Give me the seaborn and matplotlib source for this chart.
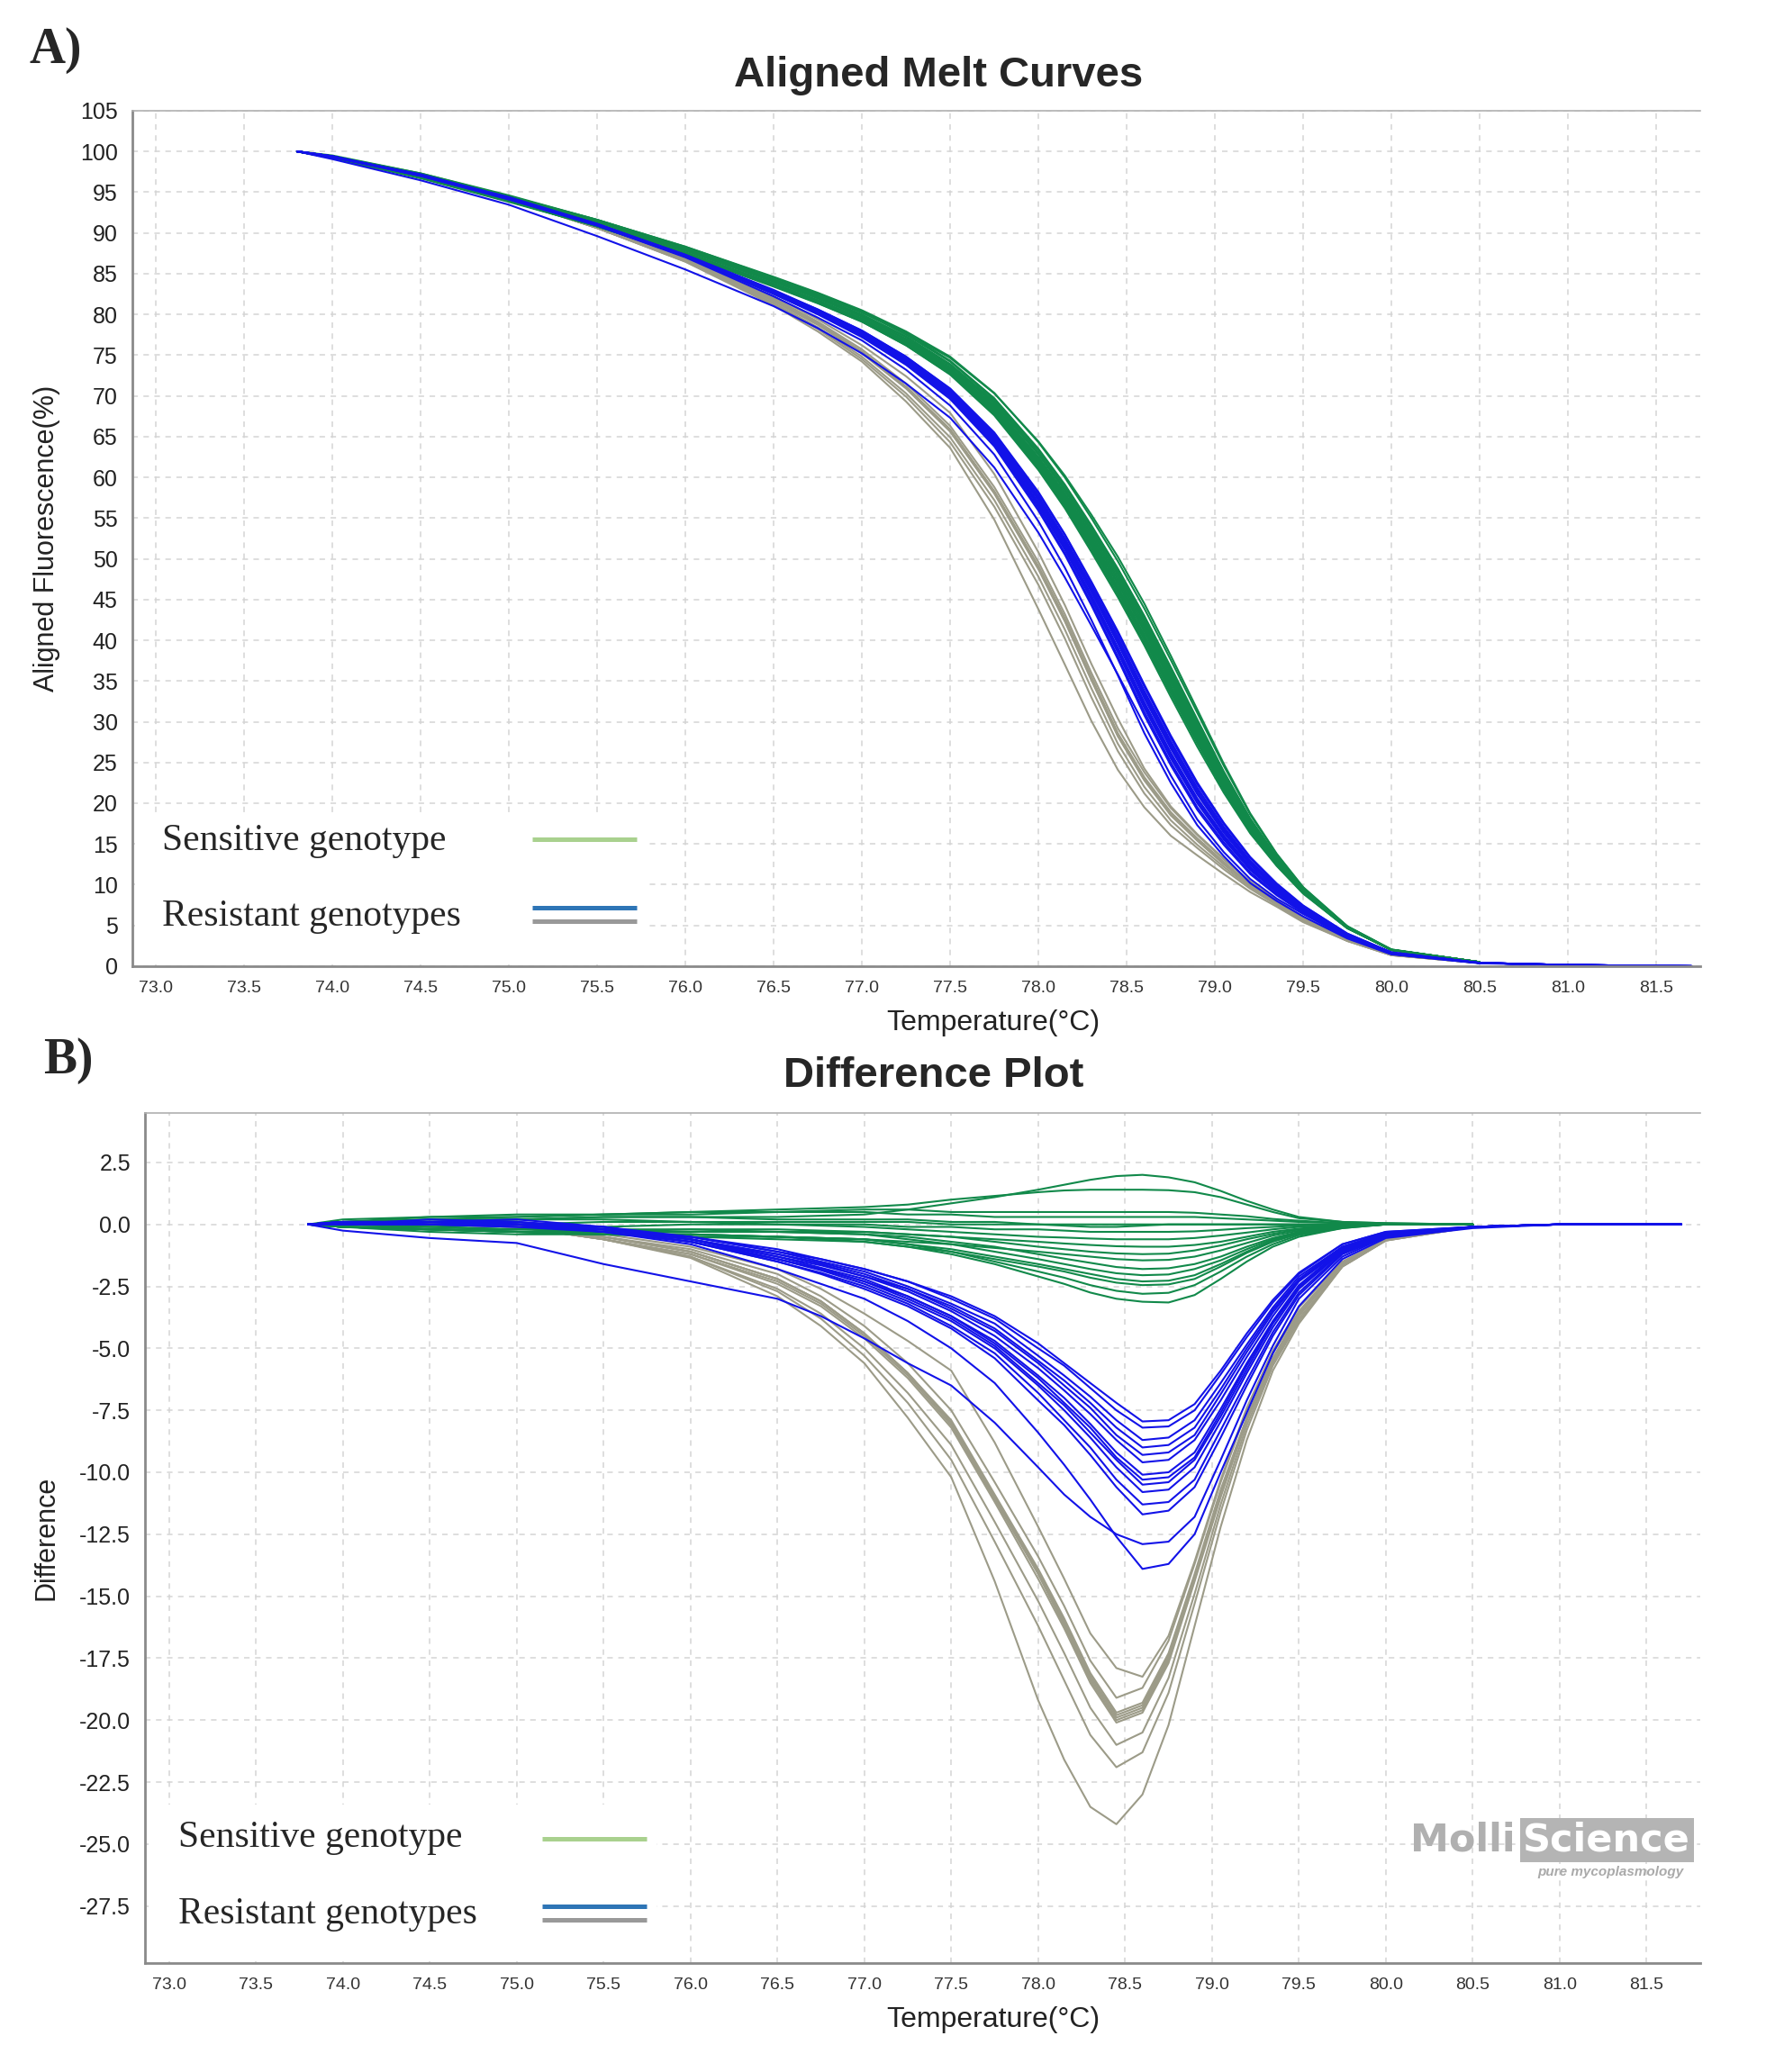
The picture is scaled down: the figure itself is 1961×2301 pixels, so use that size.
import numpy as np
import pandas as pd
import matplotlib.pyplot as plt
import matplotlib.patches as mpatches
import seaborn as sns

#------------------------------------------------------------------------------
# data

temps = [73.8, 74.0, 74.5, 75.0, 75.5, 76.0, 76.5, 76.75, 77.0, 77.25, 77.5, 77.75, 78.0, 78.15,
         78.3, 78.45, 78.6, 78.75, 78.9, 79.05, 79.2, 79.35, 79.5, 79.75, 80.0, 80.5, 81.0, 81.7]

# reference aligned melt curve (difference = 0)
ref_fluor = [100.0, 99.3, 97.0, 94.2, 91.2, 87.8, 84.0, 82.0, 79.8, 77.1, 73.8, 69.2, 63.0, 58.6,
             53.6, 48.3, 42.5, 36.2, 29.8, 23.5, 17.8, 13.2, 9.4, 4.8, 2.0, 0.5, 0.15, 0.0]

na = np.nan
sensitive = [
    [0, 0.1, 0.2, 0.2, 0.3, 0.3, 0.3, 0.35, 0.4, 0.6, 0.85, 1.1, 1.4, 1.6, 1.8, 1.95, 2.0, 1.9, 1.7, 1.35, 0.95, 0.6, 0.3, 0.1, 0.05, 0, na, na],
    [0, 0.1, 0.2, 0.3, 0.4, 0.5, 0.6, 0.65, 0.7, 0.8, 1.0, 1.15, 1.3, 1.37, 1.4, 1.4, 1.4, 1.38, 1.3, 1.1, 0.8, 0.5, 0.25, 0.1, 0.05, 0, na, na],
    [0, 0.1, 0.3, 0.3, 0.4, 0.5, 0.5, 0.55, 0.6, 0.6, 0.5, 0.5, 0.5, 0.5, 0.5, 0.5, 0.5, 0.5, 0.47, 0.4, 0.33, 0.22, 0.15, 0.05, 0, 0, na, na],
    [0, 0.2, 0.3, 0.4, 0.4, 0.4, 0.5, 0.5, 0.5, 0.4, 0.4, 0.3, 0.3, 0.3, 0.3, 0.3, 0.3, 0.3, 0.3, 0.25, 0.2, 0.15, 0.1, 0.05, 0, 0, na, na],
    [0, 0.1, 0.1, 0.2, 0.2, 0.1, 0.1, 0.1, 0.1, 0.1, 0.0, 0.0, 0.0, 0, 0, 0, 0, 0, 0, 0, 0, 0, 0, 0, 0, 0, na, na],
    [0, 0.0, 0.1, 0.2, 0.3, 0.3, 0.2, 0.2, 0.2, 0.2, 0.1, 0.1, 0.0, -0.05, -0.1, -0.1, -0.05, 0, 0, 0, 0, 0, 0, 0, 0, 0, na, na],
    [0, 0.0, -0.1, 0.0, 0.1, 0.1, 0.0, 0.0, 0.0, -0.1, -0.1, -0.2, -0.2, -0.25, -0.3, -0.3, -0.3, -0.3, -0.28, -0.22, -0.15, -0.1, -0.05, 0, 0, 0, na, na],
    [0, -0.1, -0.2, -0.2, -0.1, 0.0, 0.0, -0.05, -0.1, -0.2, -0.3, -0.4, -0.5, -0.53, -0.57, -0.6, -0.6, -0.6, -0.55, -0.45, -0.33, -0.2, -0.1, -0.05, 0, 0, na, na],
    [0, -0.1, -0.2, -0.3, -0.3, -0.3, -0.3, -0.3, -0.3, -0.4, -0.5, -0.6, -0.7, -0.77, -0.83, -0.88, -0.9, -0.9, -0.83, -0.7, -0.5, -0.3, -0.17, -0.05, 0, 0, na, na],
    [0, -0.1, -0.1, -0.2, -0.2, -0.2, -0.2, -0.25, -0.3, -0.4, -0.5, -0.7, -0.9, -1.0, -1.1, -1.17, -1.2, -1.18, -1.05, -0.85, -0.6, -0.38, -0.2, -0.05, 0, 0, na, na],
    [0, -0.1, -0.2, -0.3, -0.4, -0.4, -0.5, -0.55, -0.6, -0.7, -0.8, -0.95, -1.1, -1.2, -1.3, -1.4, -1.45, -1.43, -1.3, -1.05, -0.75, -0.45, -0.25, -0.05, 0, 0, na, na],
    [0, -0.1, -0.1, -0.2, -0.3, -0.3, -0.3, -0.35, -0.4, -0.5, -0.7, -0.9, -1.2, -1.38, -1.55, -1.72, -1.8, -1.77, -1.6, -1.3, -0.9, -0.55, -0.3, -0.1, 0, 0, na, na],
    [0, -0.1, -0.2, -0.3, -0.3, -0.2, -0.3, -0.35, -0.4, -0.6, -0.8, -1.1, -1.4, -1.6, -1.8, -1.97, -2.05, -2.02, -1.8, -1.45, -1.0, -0.6, -0.33, -0.1, 0, 0, na, na],
    [0, -0.1, -0.2, -0.3, -0.4, -0.4, -0.5, -0.55, -0.6, -0.8, -1.0, -1.3, -1.6, -1.8, -2.0, -2.2, -2.3, -2.27, -2.05, -1.6, -1.1, -0.65, -0.35, -0.1, 0, 0, na, na],
    [0, -0.1, -0.3, -0.4, -0.4, -0.5, -0.6, -0.65, -0.7, -0.9, -1.1, -1.4, -1.7, -1.9, -2.15, -2.35, -2.45, -2.42, -2.2, -1.7, -1.15, -0.7, -0.38, -0.1, 0, 0, na, na],
    [0, -0.1, -0.2, -0.3, -0.4, -0.4, -0.5, -0.55, -0.6, -0.8, -1.1, -1.5, -1.9, -2.15, -2.45, -2.68, -2.8, -2.76, -2.45, -1.9, -1.3, -0.8, -0.43, -0.15, 0, 0, na, na],
    [0, -0.1, -0.2, -0.3, -0.4, -0.5, -0.5, -0.6, -0.7, -0.9, -1.2, -1.6, -2.1, -2.4, -2.75, -3.0, -3.12, -3.15, -2.85, -2.2, -1.5, -0.9, -0.5, -0.15, 0, 0, na, na],
]

resistant_blue = [
    [0, 0.1, 0.1, 0.0, -0.1, -0.5, -1.0, -1.4, -1.8, -2.3, -2.9, -3.7, -4.8, -5.6, -6.4, -7.2, -7.95, -7.9, -7.25, -5.9, -4.4, -3.05, -1.95, -0.8, -0.3, -0.1, 0, 0],
    [0, 0.0, 0.1, 0.1, -0.2, -0.5, -1.1, -1.4, -1.8, -2.3, -3.0, -3.8, -5.0, -5.7, -6.6, -7.5, -8.2, -8.15, -7.5, -6.05, -4.55, -3.15, -2.0, -0.8, -0.3, -0.1, 0, 0],
    [0, 0.1, 0.0, 0.0, -0.2, -0.5, -1.1, -1.5, -1.9, -2.5, -3.2, -4.0, -5.3, -6.1, -6.95, -7.9, -8.7, -8.6, -7.9, -6.4, -4.85, -3.35, -2.1, -0.9, -0.35, -0.1, 0, 0],
    [0, 0.0, 0.2, 0.1, -0.1, -0.6, -1.2, -1.55, -2.0, -2.6, -3.3, -4.2, -5.5, -6.3, -7.2, -8.2, -9.0, -8.9, -8.2, -6.65, -5.0, -3.45, -2.2, -0.9, -0.35, -0.1, 0, 0],
    [0, 0.1, 0.1, 0.0, -0.2, -0.6, -1.2, -1.6, -2.1, -2.6, -3.4, -4.3, -5.6, -6.5, -7.4, -8.5, -9.3, -9.2, -8.5, -6.85, -5.15, -3.55, -2.25, -0.95, -0.4, -0.1, 0, 0],
    [0, 0.0, 0.0, -0.1, -0.2, -0.6, -1.3, -1.65, -2.1, -2.7, -3.5, -4.5, -5.8, -6.7, -7.65, -8.7, -9.6, -9.5, -8.7, -7.1, -5.35, -3.7, -2.3, -1.0, -0.4, -0.1, 0, 0],
    [0, 0.1, 0.1, 0.0, -0.2, -0.6, -1.3, -1.75, -2.2, -2.9, -3.7, -4.7, -6.1, -7.0, -8.05, -9.2, -10.1, -10.0, -9.2, -7.45, -5.6, -3.9, -2.45, -1.0, -0.4, -0.1, 0, 0],
    [0, 0.0, 0.1, 0.2, -0.1, -0.6, -1.4, -1.8, -2.3, -2.9, -3.7, -4.8, -6.2, -7.2, -8.2, -9.4, -10.3, -10.2, -9.4, -7.6, -5.7, -3.95, -2.5, -1.05, -0.4, -0.1, 0, 0],
    [0, 0.1, 0.0, 0.0, -0.2, -0.7, -1.4, -1.8, -2.3, -3.0, -3.8, -4.9, -6.4, -7.3, -8.4, -9.5, -10.5, -10.4, -9.5, -7.75, -5.85, -4.0, -2.55, -1.05, -0.4, -0.1, 0, 0],
    [0, 0.0, 0.1, 0.1, -0.2, -0.7, -1.4, -1.85, -2.4, -3.1, -3.9, -5.0, -6.5, -7.5, -8.6, -9.8, -10.8, -10.7, -9.8, -7.95, -6.0, -4.15, -2.6, -1.1, -0.45, -0.1, 0, 0],
    [0, 0.1, 0.1, 0.0, -0.3, -0.7, -1.5, -1.95, -2.5, -3.2, -4.1, -5.2, -6.8, -7.9, -9.0, -10.3, -11.3, -11.2, -10.3, -8.3, -6.3, -4.35, -2.75, -1.15, -0.45, -0.1, 0, 0],
    [0, 0.0, 0.0, -0.1, -0.3, -0.7, -1.5, -2.0, -2.6, -3.3, -4.2, -5.4, -7.1, -8.1, -9.3, -10.6, -11.7, -11.55, -10.6, -8.6, -6.5, -4.5, -2.85, -1.2, -0.5, -0.1, 0, 0],
    [0, 0.0, 0.1, 0.0, -0.3, -0.8, -1.8, -2.4, -3.0, -3.9, -5.0, -6.4, -8.4, -9.7, -11.1, -12.6, -13.9, -13.7, -12.5, -10.0, -7.6, -5.2, -3.3, -1.4, -0.55, -0.15, 0, 0],
    [0, -0.25, -0.55, -0.75, -1.6, -2.3, -3.0, -3.7, -4.6, -5.6, -6.5, -8.0, -9.8, -10.9, -11.8, -12.5, -12.9, -12.8, -11.8, -9.5, -7.1, -4.9, -3.0, -1.3, -0.5, -0.1, 0, 0],
]

resistant_gray = [
    [0, 0, 0.1, 0, -0.4, -0.9, -1.8, -2.6, -3.6, -4.7, -5.9, -8.8, -12.2, -14.3, -16.5, -17.9, -18.25, -16.6, -13.6, -10.3, -7.4, -5.1, -3.35, -1.5, -0.6, -0.1, na, na],
    [0, 0, 0, -0.1, -0.5, -1.0, -2.0, -2.9, -4.1, -5.6, -7.5, -10.4, -13.4, -15.4, -17.6, -19.1, -18.7, -16.8, -13.7, -10.4, -7.5, -5.2, -3.5, -1.55, -0.6, -0.1, na, na],
    [0, 0, 0, -0.1, -0.5, -1.1, -2.2, -3.1, -4.4, -6.0, -7.9, -10.9, -13.9, -15.9, -18.1, -19.7, -19.3, -17.3, -14.1, -10.7, -7.8, -5.4, -3.6, -1.6, -0.6, -0.1, na, na],
    [0, 0, 0.1, 0, -0.5, -1.1, -2.2, -3.1, -4.4, -6.0, -8.0, -11.0, -14.0, -16.0, -18.2, -19.8, -19.4, -17.4, -14.2, -10.8, -7.8, -5.4, -3.6, -1.6, -0.6, -0.1, na, na],
    [0, 0, 0, -0.1, -0.6, -1.2, -2.3, -3.2, -4.5, -6.1, -8.1, -11.1, -14.1, -16.1, -18.3, -19.9, -19.5, -17.5, -14.3, -10.9, -7.85, -5.45, -3.65, -1.6, -0.6, -0.1, na, na],
    [0, 0, 0, 0, -0.5, -1.1, -2.2, -3.1, -4.4, -6.0, -8.0, -11.0, -14.1, -16.2, -18.4, -20.0, -19.6, -17.6, -14.3, -10.9, -7.9, -5.45, -3.65, -1.6, -0.6, -0.1, na, na],
    [0, 0, 0.1, 0, -0.6, -1.2, -2.4, -3.3, -4.6, -6.2, -8.2, -11.2, -14.3, -16.3, -18.5, -20.1, -19.7, -17.7, -14.4, -11.0, -7.9, -5.5, -3.7, -1.6, -0.6, -0.1, na, na],
    [0, 0, 0, -0.1, -0.6, -1.3, -2.6, -3.6, -5.0, -6.8, -8.9, -12.0, -15.2, -17.3, -19.5, -21.0, -20.5, -18.3, -14.9, -11.3, -8.1, -5.6, -3.8, -1.7, -0.65, -0.1, na, na],
    [0, 0, 0, -0.1, -0.6, -1.3, -2.7, -3.8, -5.3, -7.2, -9.5, -12.8, -16.2, -18.4, -20.6, -21.9, -21.3, -18.9, -15.3, -11.6, -8.3, -5.7, -3.9, -1.7, -0.65, -0.1, na, na],
    [0, 0, 0, -0.1, -0.6, -1.35, -2.9, -4.1, -5.6, -7.8, -10.2, -14.4, -19.2, -21.6, -23.5, -24.2, -23.0, -20.2, -16.2, -12.2, -8.7, -5.9, -4.0, -1.7, -0.65, -0.1, na, na],
]

x_ticks = np.arange(73.0, 81.51, 0.5)
melt_yticks = np.arange(0, 106, 5)
diff_yticks = np.arange(-27.5, 2.6, 2.5)

#------------------------------------------------------------------------------

groups = [("gray", resistant_gray), ("green", sensitive), ("blue", resistant_blue)]
rows = []
for name, curves in groups:
    for i, c in enumerate(curves):
        for t, r, d in zip(temps, ref_fluor, c):
            if np.isnan(d):
                continue
            rows.append((name, name + str(i), t, d, max(r + d, 0.0)))
df = pd.DataFrame(rows, columns=["group", "curve", "temp", "diff", "fluor"])

pal = {"green": "#11894a", "blue": "#1212e8", "gray": "#9c9b88"}

sns.set_style("white")
plt.rcParams['font.family'] = ['Liberation Sans', 'DejaVu Sans']
plt.rcParams['axes.unicode_minus'] = False

fig = plt.figure(figsize=(19.61, 23.01), dpi=100)
axA = fig.add_axes([0.0748, 0.5337, 0.888, 0.4129])
axB = fig.add_axes([0.0822, 0.0526, 0.8807, 0.4103])


def style_axis(ax, yticks, fmt):
    ax.set_axisbelow(True)
    ax.grid(True, color="#d4d4d4", linestyle=(0, (4, 4)), linewidth=1.1)
    ax.set_xticks(x_ticks)
    ax.set_xticklabels(["%.1f" % v for v in x_ticks], fontsize=14, color="#333333")
    ax.set_yticks(yticks)
    ax.set_yticklabels([fmt % v for v in yticks], fontsize=18, color="#222222")
    ax.tick_params(axis="both", direction="out", length=4.5, width=1.2, color="#888888", pad=7)
    for s in ["left", "bottom"]:
        ax.spines[s].set_color("#8a8a8a")
        ax.spines[s].set_linewidth(2)
    ax.spines["top"].set_color("#b0b0b0")
    ax.spines["top"].set_linewidth(1.2)
    ax.spines["right"].set_visible(False)


def fake_legend(ax, rect_w, rect_h, txt_x, y1, y2, lx0, lx1, lg, lb, lgr):
    ax.add_patch(mpatches.Rectangle((0.002, 0.002), rect_w, rect_h, transform=ax.transAxes,
                                    facecolor="white", edgecolor="none", zorder=0.8))
    ax.text(txt_x, y1, "Sensitive genotype", transform=ax.transAxes, fontsize=30,
            family="Liberation Serif", va="center", zorder=5)
    ax.text(txt_x, y2, "Resistant genotypes", transform=ax.transAxes, fontsize=30,
            family="Liberation Serif", va="center", zorder=5)
    ax.plot([lx0, lx1], [lg, lg], transform=ax.transAxes, color="#a9d18e", lw=3.6,
            solid_capstyle="butt", zorder=5)
    ax.plot([lx0, lx1], [lb, lb], transform=ax.transAxes, color="#2e75b6", lw=3.6,
            solid_capstyle="butt", zorder=5)
    ax.plot([lx0, lx1], [lgr, lgr], transform=ax.transAxes, color="#999999", lw=3.6,
            solid_capstyle="butt", zorder=5)


# A) aligned melt curves
sns.lineplot(data=df, x="temp", y="fluor", hue="group", units="curve", estimator=None,
             hue_order=["gray", "green", "blue"], palette=pal, lw=1.5, sort=False,
             legend=False, ax=axA, zorder=2)
axA.set_xlim(72.865, 81.75)
axA.set_ylim(0, 105)
style_axis(axA, melt_yticks, "%d")
axA.set_xlabel("Temperature(°C)", fontsize=23, color="#222222")
axA.set_ylabel("Aligned Fluorescence(%)", fontsize=22, color="#222222")
axA.xaxis.set_label_coords(0.549, -0.051)
axA.yaxis.set_label_coords(-0.046, 0.5)
fake_legend(axA, 0.328, 0.176, 0.0194, 0.1466, 0.0586, 0.255, 0.3215, 0.148, 0.0679, 0.0525)

# B) difference plot
sns.lineplot(data=df, x="temp", y="diff", hue="group", units="curve", estimator=None,
             hue_order=["gray", "green", "blue"], palette=pal, lw=1.5, sort=False,
             legend=False, ax=axB, zorder=2)
axB.set_xlim(72.863, 81.81)
axB.set_ylim(-29.8, 4.5)
style_axis(axB, diff_yticks, "%.1f")
axB.set_xlabel("Temperature(°C)", fontsize=23, color="#222222")
axB.set_ylabel("Difference", fontsize=22, color="#222222")
axB.xaxis.set_label_coords(0.545, -0.0513)
axB.yaxis.set_label_coords(-0.055, 0.5)
fake_legend(axB, 0.327, 0.184, 0.0212, 0.1475, 0.0575, 0.2555, 0.3226, 0.146, 0.0668, 0.0512)

# MolliScience logo
axB.text(0.881, 0.1444, "Molli", transform=axB.transAxes, fontsize=31, fontweight="bold",
         family="DejaVu Sans", color="#b0b0b0", ha="right", va="center", zorder=5)
axB.text(0.886, 0.1444, "Science", transform=axB.transAxes, fontsize=31, fontweight="bold",
         family="DejaVu Sans", color="white", ha="left", va="center", zorder=5,
         bbox=dict(boxstyle="square,pad=0.08", facecolor="#b4b4b4", edgecolor="none"))
axB.text(0.989, 0.107, "pure mycoplasmology", transform=axB.transAxes, fontsize=11,
         style="italic", fontweight="bold", color="#aaaaaa", ha="right", va="center", zorder=5)

# titles and panel letters
fig.text(0.5315, 1 - 84 / 2301, "Aligned Melt Curves", fontsize=34, fontweight="bold",
         ha="center", va="center")
fig.text(0.5284, 1 - 1195 / 2301, "Difference Plot", fontsize=34, fontweight="bold",
         ha="center", va="center")
fig.text(62 / 1961, 1 - 56 / 2301, "A)", fontsize=40, fontweight="bold",
         family="Liberation Serif", ha="center", va="center")
fig.text(76 / 1961, 1 - 1178 / 2301, "B)", fontsize=40, fontweight="bold",
         family="Liberation Serif", ha="center", va="center")

fig.savefig("out.png", dpi=100, facecolor="white")
